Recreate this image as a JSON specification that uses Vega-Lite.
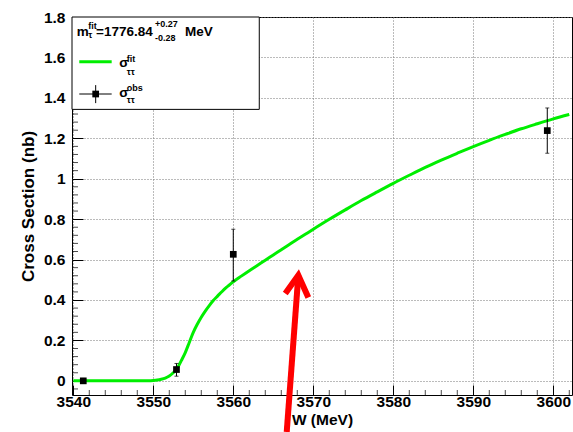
{
  "$schema": "https://vega.github.io/schema/vega-lite/v6.json",
  "width": 500,
  "height": 378,
  "autosize": {"type": "none"},
  "padding": {"left": 72, "top": 17, "right": 1, "bottom": 37},
  "background": "white",
  "config": {
    "view": {"stroke": "black", "strokeWidth": 1},
    "font": "Liberation Sans"
  },
  "datasets": {
    "fit": [
      {"W": 3540, "sigma": 0}, {"W": 3545, "sigma": 0}, {"W": 3548, "sigma": 0},
      {"W": 3549, "sigma": 0.0005}, {"W": 3550, "sigma": 0.002}, {"W": 3550.5, "sigma": 0.004},
      {"W": 3551, "sigma": 0.008}, {"W": 3551.5, "sigma": 0.014}, {"W": 3552, "sigma": 0.024},
      {"W": 3552.5, "sigma": 0.04}, {"W": 3553, "sigma": 0.062}, {"W": 3553.5, "sigma": 0.1},
      {"W": 3554, "sigma": 0.14}, {"W": 3554.5, "sigma": 0.19}, {"W": 3555, "sigma": 0.24},
      {"W": 3555.5, "sigma": 0.28}, {"W": 3556, "sigma": 0.315}, {"W": 3556.5, "sigma": 0.345},
      {"W": 3557, "sigma": 0.372}, {"W": 3557.5, "sigma": 0.397}, {"W": 3558, "sigma": 0.418},
      {"W": 3558.5, "sigma": 0.438}, {"W": 3559, "sigma": 0.458}, {"W": 3559.5, "sigma": 0.474},
      {"W": 3560, "sigma": 0.49}, {"W": 3561, "sigma": 0.518}, {"W": 3562, "sigma": 0.545},
      {"W": 3563, "sigma": 0.571}, {"W": 3564, "sigma": 0.597}, {"W": 3565, "sigma": 0.623},
      {"W": 3566, "sigma": 0.649}, {"W": 3567, "sigma": 0.675}, {"W": 3568, "sigma": 0.7},
      {"W": 3569, "sigma": 0.725}, {"W": 3570, "sigma": 0.75}, {"W": 3572, "sigma": 0.799},
      {"W": 3574, "sigma": 0.846}, {"W": 3576, "sigma": 0.892}, {"W": 3578, "sigma": 0.935},
      {"W": 3580, "sigma": 0.977}, {"W": 3582, "sigma": 1.017}, {"W": 3584, "sigma": 1.056},
      {"W": 3586, "sigma": 1.092}, {"W": 3588, "sigma": 1.126}, {"W": 3590, "sigma": 1.159},
      {"W": 3592, "sigma": 1.19}, {"W": 3594, "sigma": 1.219}, {"W": 3596, "sigma": 1.247},
      {"W": 3598, "sigma": 1.272}, {"W": 3600, "sigma": 1.296}, {"W": 3602, "sigma": 1.318}
    ],
    "obs": [
      {"W": 3541.25, "sigma": 0.0, "lo": -0.012, "hi": 0.012},
      {"W": 3552.9, "sigma": 0.056, "lo": 0.023, "hi": 0.086},
      {"W": 3560.0, "sigma": 0.626, "lo": 0.494, "hi": 0.75},
      {"W": 3599.25, "sigma": 1.238, "lo": 1.126, "hi": 1.35}
    ],
    "xMinor": [
      {"W": 3542}, {"W": 3544}, {"W": 3546}, {"W": 3548}, {"W": 3552}, {"W": 3554}, {"W": 3556}, {"W": 3558},
      {"W": 3562}, {"W": 3564}, {"W": 3566}, {"W": 3568}, {"W": 3572}, {"W": 3574}, {"W": 3576}, {"W": 3578},
      {"W": 3582}, {"W": 3584}, {"W": 3586}, {"W": 3588}, {"W": 3592}, {"W": 3594}, {"W": 3596}, {"W": 3598}, {"W": 3602}
    ],
    "yMinor": [
      {"sigma": -0.04}, {"sigma": 0.04}, {"sigma": 0.08}, {"sigma": 0.12}, {"sigma": 0.16},
      {"sigma": 0.24}, {"sigma": 0.28}, {"sigma": 0.32}, {"sigma": 0.36},
      {"sigma": 0.44}, {"sigma": 0.48}, {"sigma": 0.52}, {"sigma": 0.56},
      {"sigma": 0.64}, {"sigma": 0.68}, {"sigma": 0.72}, {"sigma": 0.76},
      {"sigma": 0.84}, {"sigma": 0.88}, {"sigma": 0.92}, {"sigma": 0.96},
      {"sigma": 1.04}, {"sigma": 1.08}, {"sigma": 1.12}, {"sigma": 1.16},
      {"sigma": 1.24}, {"sigma": 1.28}, {"sigma": 1.32}, {"sigma": 1.36}
    ],
    "arrow": [
      {"seg": "shaft", "ord": 0, "W": 3566.68, "sigma": -0.253},
      {"seg": "shaft", "ord": 1, "W": 3568.13, "sigma": 0.522},
      {"seg": "head", "ord": 0, "W": 3566.5, "sigma": 0.432},
      {"seg": "head", "ord": 1, "W": 3568.13, "sigma": 0.522},
      {"seg": "head", "ord": 2, "W": 3569.38, "sigma": 0.412}
    ],
    "legBig": [
      {"W": 3540.425, "sigma": 1.706, "text": "m"},
      {"W": 3542.84, "sigma": 1.706, "text": "=1776.84"},
      {"W": 3553.96, "sigma": 1.706, "text": "MeV"},
      {"W": 3545.75, "sigma": 1.554, "text": "σ"},
      {"W": 3545.75, "sigma": 1.404, "text": "σ"}
    ],
    "legSmall": [
      {"W": 3541.875, "sigma": 1.742, "text": "fit"},
      {"W": 3541.875, "sigma": 1.698, "text": "τ"},
      {"W": 3550.21, "sigma": 1.75, "text": "+0.27"},
      {"W": 3550.21, "sigma": 1.68, "text": "-0.28"},
      {"W": 3546.675, "sigma": 1.576, "text": "fit"},
      {"W": 3546.675, "sigma": 1.514, "text": "ττ"},
      {"W": 3546.675, "sigma": 1.434, "text": "obs"},
      {"W": 3546.675, "sigma": 1.377, "text": "ττ"}
    ]
  },
  "layer": [
    {
      "data": {"name": "fit"},
      "mark": {"type": "line", "color": "#00ee00", "strokeWidth": 3, "interpolate": "monotone"},
      "encoding": {
        "x": {"field": "W", "type": "quantitative",
          "scale": {"domain": [3539.84, 3602.34], "nice": false, "zero": false},
          "axis": {
            "values": [3540, 3550, 3560, 3570, 3580, 3590, 3600],
            "format": "d",
            "title": "W (MeV)", "titleFontSize": 15.5, "titleFontWeight": "bold", "titleColor": "black", "titlePadding": 3,
            "labelFontSize": 15.5, "labelFontWeight": "bold", "labelColor": "black", "labelPadding": 9, "labelFlush": false,
            "tickSize": -10, "tickColor": "black", "tickWidth": 1, "domain": false,
            "grid": true, "gridDash": [1, 2], "gridColor": "#777777"}},
        "y": {"field": "sigma", "type": "quantitative",
          "scale": {"domain": [-0.07, 1.8], "nice": false, "zero": false},
          "axis": {
            "values": [0, 0.2, 0.4, 0.6, 0.8, 1, 1.2, 1.4, 1.6, 1.8],
            "format": "~g",
            "title": "Cross Section (nb)", "titleFontSize": 17, "titleFontWeight": "bold", "titleColor": "black", "titlePadding": 6,
            "labelFontSize": 15.5, "labelFontWeight": "bold", "labelColor": "black", "labelPadding": 18,
            "tickSize": -11, "tickColor": "black", "tickWidth": 1, "domain": false,
            "grid": true, "gridDash": [1, 2], "gridColor": "#777777"}}
      }
    },
    {
      "data": {"name": "xMinor"},
      "mark": {"type": "tick", "orient": "vertical", "size": 5, "thickness": 1, "color": "black", "yOffset": -2.5, "clip": false},
      "encoding": {
        "x": {"field": "W", "type": "quantitative"},
        "y": {"datum": -0.07}
      }
    },
    {
      "data": {"name": "yMinor"},
      "mark": {"type": "tick", "orient": "horizontal", "size": 6, "thickness": 1, "color": "black", "xOffset": 3, "clip": false},
      "encoding": {
        "x": {"datum": 3539.84},
        "y": {"field": "sigma", "type": "quantitative"}
      }
    },
    {
      "data": {"name": "obs"},
      "mark": {"type": "rule", "color": "black", "strokeWidth": 1},
      "encoding": {
        "x": {"field": "W", "type": "quantitative"},
        "y": {"field": "lo", "type": "quantitative"},
        "y2": {"field": "hi"}
      }
    },
    {
      "data": {"name": "obs"},
      "transform": [{"fold": ["lo", "hi"], "as": ["end", "val"]}],
      "mark": {"type": "tick", "orient": "horizontal", "size": 4, "thickness": 1, "color": "black"},
      "encoding": {
        "x": {"field": "W", "type": "quantitative"},
        "y": {"field": "val", "type": "quantitative"}
      }
    },
    {
      "data": {"name": "obs"},
      "mark": {"type": "square", "size": 45, "filled": true, "color": "black", "opacity": 1},
      "encoding": {
        "x": {"field": "W", "type": "quantitative"},
        "y": {"field": "sigma", "type": "quantitative"}
      }
    },
    {
      "data": {"values": [{}]},
      "mark": {"type": "rect", "fill": "white", "stroke": "black", "strokeWidth": 1},
      "encoding": {
        "x": {"datum": 3539.84},
        "x2": {"datum": 3563.25},
        "y": {"datum": 1.8},
        "y2": {"datum": 1.343}
      }
    },
    {
      "data": {"values": [{}]},
      "mark": {"type": "rule", "color": "#00ee00", "strokeWidth": 3},
      "encoding": {
        "x": {"datum": 3540.75},
        "x2": {"datum": 3544.8},
        "y": {"datum": 1.578}
      }
    },
    {
      "data": {"values": [{}]},
      "mark": {"type": "rule", "color": "black", "strokeWidth": 1},
      "encoding": {
        "x": {"datum": 3540.75},
        "x2": {"datum": 3544.8},
        "y": {"datum": 1.419}
      }
    },
    {
      "data": {"values": [{}]},
      "mark": {"type": "rule", "color": "black", "strokeWidth": 1},
      "encoding": {
        "x": {"datum": 3542.8},
        "y": {"datum": 1.374},
        "y2": {"datum": 1.463}
      }
    },
    {
      "data": {"values": [{}]},
      "mark": {"type": "square", "size": 45, "filled": true, "color": "black", "opacity": 1},
      "encoding": {
        "x": {"datum": 3542.8},
        "y": {"datum": 1.419}
      }
    },
    {
      "data": {"name": "legBig"},
      "mark": {"type": "text", "fontSize": 13.5, "fontWeight": "bold", "align": "left", "baseline": "alphabetic", "color": "black", "font": "Liberation Sans"},
      "encoding": {
        "x": {"field": "W", "type": "quantitative"},
        "y": {"field": "sigma", "type": "quantitative"},
        "text": {"field": "text"}
      }
    },
    {
      "data": {"name": "legSmall"},
      "mark": {"type": "text", "fontSize": 9, "fontWeight": "bold", "align": "left", "baseline": "alphabetic", "color": "black", "font": "Liberation Sans"},
      "encoding": {
        "x": {"field": "W", "type": "quantitative"},
        "y": {"field": "sigma", "type": "quantitative"},
        "text": {"field": "text"}
      }
    },
    {
      "data": {"name": "arrow"},
      "mark": {"type": "line", "color": "#ff0000", "strokeWidth": 6, "strokeJoin": "miter", "strokeCap": "butt", "clip": false},
      "encoding": {
        "x": {"field": "W", "type": "quantitative"},
        "y": {"field": "sigma", "type": "quantitative"},
        "detail": {"field": "seg"},
        "order": {"field": "ord", "type": "quantitative"}
      }
    }
  ]
}
